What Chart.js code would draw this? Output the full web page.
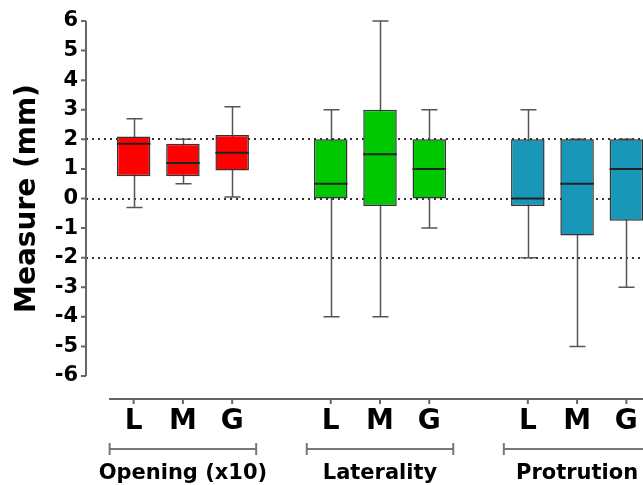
<!DOCTYPE html>
<html>
<head>
<meta charset="utf-8">
<script src="https://cdn.jsdelivr.net/npm/chart.js@4/dist/chart.umd.min.js"></script>
<style>
  html, body { margin: 0; padding: 0; background: #fff; overflow: hidden; }
  #wrap { width: 643px; height: 485px; overflow: hidden; }
</style>
</head>
<body>
<div id="wrap"><canvas id="chart" width="651" height="485"></canvas></div>
<script>
// categories (empty strings are the gaps between groups)
const categories = ['L', 'M', 'G', '', 'L', 'M', 'G', '', 'L', 'M', 'G'];
const groups = ['Opening (x10)', 'Laterality', 'Protrution'];
const groupSlots = [[0, 2], [4, 6], [8, 10]];

// box plot values
const whiskerLow  = [-0.3, 0.5, 0.05, null, -4, -4, -1, null, -2, -5, -3];
const q1          = [0.75, 0.75, 0.95, null, 0, -0.25, 0, null, -0.25, -1.25, -0.75];
const medians     = [1.85, 1.2, 1.55, null, 0.5, 1.5, 1, null, 0, 0.5, 1];
const q3          = [2.1, 1.85, 2.15, null, 2, 3, 2, null, 2, 2, 2];
const whiskerHigh = [2.7, 2.0, 3.1, null, 3, 6, 3, null, 3, 2, 2];

const refLines = [2, 0, -2];
const yMin = -6, yMax = 6;

const RED = '#ff0000', GREEN = '#00c800', BLUE = '#1997b8';
const boxColors = [RED, RED, RED, null, GREEN, GREEN, GREEN, null, BLUE, BLUE, BLUE];

const FONT = "'DejaVu Sans', sans-serif";

const boxPlot = {
  id: 'boxPlot',
  beforeDatasetsDraw(chart) {
    const { ctx, chartArea, scales: { x, y } } = chart;
    const axisX = chartArea.left - 23;
    ctx.save();
    // dotted reference lines
    ctx.strokeStyle = '#333';
    ctx.lineWidth = 2;
    ctx.setLineDash([2, 4]);
    refLines.forEach(v => {
      const py = Math.round(y.getPixelForValue(v));
      ctx.beginPath();
      ctx.moveTo(axisX, py);
      ctx.lineTo(chart.width, py);
      ctx.stroke();
    });
    ctx.setLineDash([]);
    // whiskers
    ctx.strokeStyle = '#555';
    ctx.lineWidth = 1.5;
    categories.forEach((c, i) => {
      if (whiskerLow[i] == null) return;
      const px = Math.round(x.getPixelForValue(i)) + 0.5;
      const lo = y.getPixelForValue(whiskerLow[i]);
      const hi = y.getPixelForValue(whiskerHigh[i]);
      ctx.beginPath();
      ctx.moveTo(px, lo); ctx.lineTo(px, hi);
      ctx.moveTo(px - 8, lo); ctx.lineTo(px + 8, lo);
      ctx.moveTo(px - 8, hi); ctx.lineTo(px + 8, hi);
      ctx.stroke();
    });
    ctx.restore();
  },
  afterDatasetsDraw(chart) {
    const { ctx, scales: { x, y } } = chart;
    const meta = chart.getDatasetMeta(0);
    ctx.save();
    ctx.strokeStyle = '#222';
    ctx.lineWidth = 2;
    categories.forEach((c, i) => {
      if (medians[i] == null) return;
      const bar = meta.data[i];
      const px = x.getPixelForValue(i);
      const py = y.getPixelForValue(medians[i]);
      ctx.beginPath();
      ctx.moveTo(px - bar.width / 2, py);
      ctx.lineTo(px + bar.width / 2, py);
      ctx.stroke();
    });
    ctx.restore();
  },
  afterDraw(chart) {
    const { ctx, chartArea, scales: { x, y } } = chart;
    const axisX = chartArea.left - 23;
    ctx.save();
    ctx.strokeStyle = '#666';
    ctx.lineWidth = 2;
    // y axis
    ctx.beginPath();
    ctx.moveTo(axisX, y.getPixelForValue(yMax));
    ctx.lineTo(axisX, y.getPixelForValue(yMin));
    for (let v = yMin; v <= yMax; v++) {
      const py = y.getPixelForValue(v);
      ctx.moveTo(axisX - 5, py);
      ctx.lineTo(axisX, py);
    }
    ctx.stroke();
    // x axis
    const axisY = chartArea.bottom + 23;
    ctx.beginPath();
    ctx.moveTo(chartArea.left, axisY);
    ctx.lineTo(chart.width, axisY);
    categories.forEach((c, i) => {
      if (!c) return;
      const px = x.getPixelForValue(i);
      ctx.moveTo(px, axisY);
      ctx.lineTo(px, axisY + 5);
    });
    ctx.stroke();
    // group brackets and names
    const brY = chartArea.bottom + 73;
    ctx.strokeStyle = '#777';
    ctx.lineWidth = 2;
    ctx.fillStyle = '#000';
    ctx.font = 'bold 21px ' + FONT;
    ctx.textAlign = 'center';
    ctx.textBaseline = 'middle';
    groups.forEach((g, k) => {
      const [a, b] = groupSlots[k];
      const x0 = x.getPixelForValue(a) - 24;
      const x1 = x.getPixelForValue(b) + 24;
      ctx.beginPath();
      ctx.moveTo(x0, brY); ctx.lineTo(x1, brY);
      ctx.moveTo(x0, brY - 6); ctx.lineTo(x0, brY + 6);
      ctx.moveTo(x1, brY - 6); ctx.lineTo(x1, brY + 6);
      ctx.stroke();
      ctx.fillText(g, x.getPixelForValue((a + b) / 2), brY + 25);
    });
    ctx.restore();
  }
};

new Chart(document.getElementById('chart'), {
  type: 'bar',
  data: {
    labels: categories,
    datasets: [{
      data: categories.map((c, i) => q1[i] == null ? null : [q1[i], q3[i]]),
      backgroundColor: boxColors,
      borderColor: '#333',
      borderWidth: 1.5,
      borderSkipped: false,
      categoryPercentage: 1,
      barPercentage: 0.68
    }]
  },
  options: {
    responsive: false,
    devicePixelRatio: 1,
    animation: false,
    layout: { padding: { top: 21, left: 0, right: 0, bottom: 0 } },
    plugins: { legend: { display: false }, tooltip: { enabled: false } },
    scales: {
      x: {
        grid: { display: false, drawTicks: false },
        border: { display: false },
        ticks: {
          color: '#000',
          font: { family: FONT, size: 28, weight: 'bold' },
          padding: 29,
          maxRotation: 0,
          autoSkip: false
        },
        afterFit(scale) {
          scale.height = 109;
          scale.paddingLeft = 0;
          scale.paddingRight = 0;
        }
      },
      y: {
        min: yMin,
        max: yMax,
        grid: { display: false, drawTicks: false },
        border: { display: false },
        ticks: {
          stepSize: 1,
          autoSkip: false,
          color: '#000',
          font: { family: FONT, size: 21, weight: 'bold' },
          padding: 31
        },
        title: {
          display: true,
          text: 'Measure (mm)',
          color: '#000',
          font: { family: FONT, size: 28, weight: 'bold' },
          padding: { top: 11, bottom: 0 }
        },
        afterFit(scale) {
          scale.width = 109;
          scale.paddingTop = 0;
          scale.paddingBottom = 0;
        }
      }
    }
  },
  plugins: [boxPlot]
});
</script>
</body>
</html>
